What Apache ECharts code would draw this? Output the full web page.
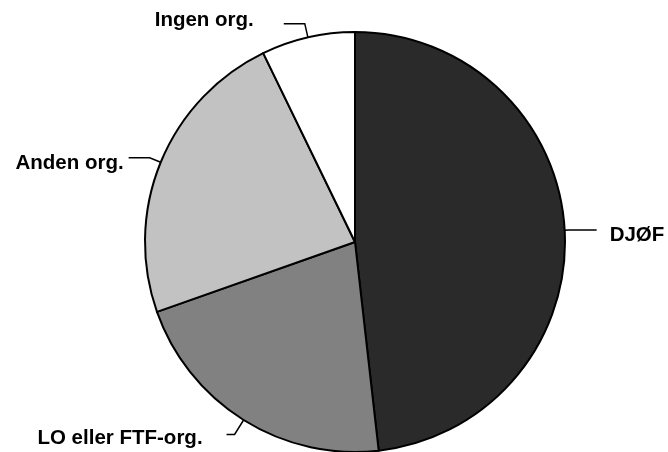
<!DOCTYPE html>
<html><head><meta charset="utf-8">
<script src="https://cdn.jsdelivr.net/npm/echarts@6/dist/echarts.min.js"></script>
<style>html,body{margin:0;padding:0;background:#fff}#c{width:668px;height:452px}</style>
</head><body><div id="c"></div>
<script>
const categories = ['DJØF', 'LO eller FTF-org.', 'Anden org.', 'Ingen org.'];
const values = [48.2, 21.4, 23.2, 7.2];
const colors = ['#2a2a2a', '#818181', '#c2c2c2', '#ffffff'];

// per-slice label styling: leader lengths, text gap, vertical nudge of text (px, + = down)
const labelStyles = [
  { len: 4, len2: 28, dist: 13, shift: 5 },
  { len: 17, len2: 8, dist: 24, shift: 4 },
  { len: 12, len2: 21, dist: 5, shift: 6 },
  { len: 14, len2: 21, dist: 30, shift: -3 }
];

function fmt(name, shift) {
  if (shift > 0) return '{g| }\n{t|' + name + '}';
  if (shift < 0) return '{t|' + name + '}\n{g| }';
  return '{t|' + name + '}';
}

const chart = echarts.init(document.getElementById('c'));
chart.setOption({
  backgroundColor: '#fff',
  animation: false,
  series: [{
    type: 'pie',
    center: [355, 242],
    radius: 210,
    startAngle: 90,
    clockwise: true,
    avoidLabelOverlap: false,
    data: categories.map((n, i) => ({
      name: n,
      value: values[i],
      itemStyle: { color: colors[i] },
      label: {
        distanceToLabelLine: labelStyles[i].dist,
        formatter: fmt(n, labelStyles[i].shift),
        rich: {
          g: { fontSize: 2, lineHeight: Math.abs(labelStyles[i].shift) * 2 },
          t: {
            fontSize: 20.5, lineHeight: 24, fontWeight: 'bold', color: '#000',
            fontFamily: 'Liberation Sans, Arial, sans-serif'
          }
        }
      },
      labelLine: { length: labelStyles[i].len, length2: labelStyles[i].len2 }
    })),
    itemStyle: { borderColor: '#000', borderWidth: 2 },
    label: {
      show: true,
      position: 'outside',
      color: '#000',
      fontFamily: 'Liberation Sans, Arial, sans-serif',
      fontWeight: 'bold',
      fontSize: 20.5
    },
    labelLine: { show: true, lineStyle: { color: '#000', width: 1.5 } },
    emphasis: { disabled: true }
  }]
});
</script></body></html>
